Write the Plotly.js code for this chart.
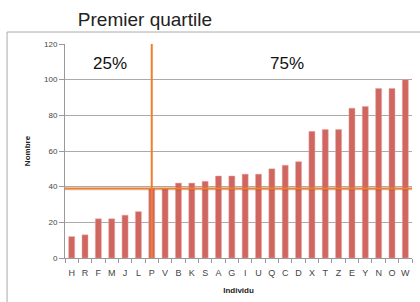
<!DOCTYPE html>
<html>
<head>
<meta charset="utf-8">
<script src="https://cdn.plot.ly/plotly-3.0.1.min.js"></script>
<style>html,body{margin:0;padding:0;background:#fff}#chart{width:420px;height:302px}</style>
</head>
<body>
<div id="chart"></div>
<script>
var categories = ["H","R","F","M","J","L","P","V","B","K","S","A","G","I","U","Q","C","D","X","T","Z","E","Y","N","O","W"];
var values = [12,13,22,22,24,26,39,39,42,42,43,46,46,47,47,50,52,54,71,72,72,84,85,95,95,100];
var quartileValue = 39;
var quartileCategory = "P";
var yTicks = [0,20,40,60,80,100,120];
var labelLeft = "25%";
var labelRight = "75%";

var orange = "#f07f2a";
var trace = {
  type: "bar",
  x: categories,
  y: values,
  marker: {color: "#cf6660", line: {color: "#e9a7a3", width: 0.5}},
  hoverinfo: "x+y"
};

var layout = {
  width: 420, height: 302,
  margin: {l: 65, r: 8, t: 44, b: 44},
  paper_bgcolor: "#fff", plot_bgcolor: "#fff",
  showlegend: false,
  bargap: 0.55,
  font: {family: "Liberation Sans, Arial, sans-serif", color: "#333"},
  title: {text: "Premier quartile", font: {size: 19, color: "#222"}, x: 0.345, xanchor: "center", y: 0.935, yanchor: "middle"},
  xaxis: {
    type: "category",
    tickson: "boundaries",
    tickangle: 0,
    ticks: "outside", ticklen: 4, tickcolor: "#999",
    ticklabelstandoff: 6,
    showline: true, linecolor: "#999", linewidth: 1,
    tickfont: {size: 9, color: "#444"},
    title: {text: "<b>Individu</b>", font: {size: 8, color: "#222"}, standoff: 10}
  },
  yaxis: {
    range: [0, 120],
    tickvals: yTicks,
    ticks: "outside", ticklen: 5, tickcolor: "#999",
    showline: true, linecolor: "#999", linewidth: 1,
    showgrid: true, gridcolor: "#aaa", gridwidth: 1,
    zeroline: false,
    tickfont: {size: 8, color: "#444"},
    title: {text: "<b>Nombre</b>", font: {size: 8, color: "#222"}, standoff: 12}
  },
  shapes: [
    {type: "rect", xref: "paper", yref: "paper", x0: -0.167, x1: 1.2, y0: -0.4, y1: 1.056,
     line: {color: "#aaa", width: 1}, fillcolor: "rgba(0,0,0,0)", layer: "below"},
    {type: "line", xref: "paper", yref: "y", x0: 0, x1: 1, y0: quartileValue - 0.6, y1: quartileValue - 0.6,
     line: {color: "rgba(0,0,0,0.12)", width: 2}},
    {type: "line", xref: "paper", yref: "y", x0: 0, x1: 1, y0: quartileValue, y1: quartileValue,
     line: {color: orange, width: 2}},
    {type: "line", xref: "x", yref: "paper", x0: quartileCategory, x1: quartileCategory, y0: 0, y1: 1,
     line: {color: orange, width: 2}}
  ],
  annotations: [
    {text: labelLeft, xref: "paper", yref: "paper", x: 0.13, y: 0.911, xanchor: "center", yanchor: "middle", showarrow: false, font: {size: 17, color: "#111"}},
    {text: labelRight, xref: "paper", yref: "paper", x: 0.64, y: 0.911, xanchor: "center", yanchor: "middle", showarrow: false, font: {size: 17, color: "#111"}}
  ]
};

Plotly.newPlot("chart", [trace], layout, {displayModeBar: false, staticPlot: true});
</script>
</body>
</html>
